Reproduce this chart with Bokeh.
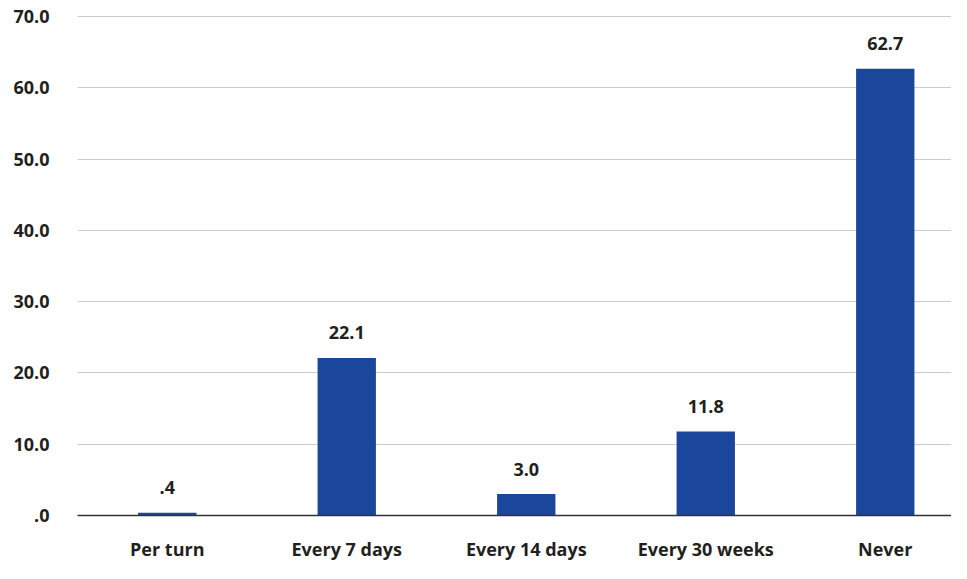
from bokeh.plotting import figure
from bokeh.models import ColumnDataSource, Range1d, FixedTicker
from bokeh.core.properties import value
from bokeh.embed import file_html
from bokeh.resources import INLINE

categories = ["Per turn", "Every 7 days", "Every 14 days", "Every 30 weeks", "Never"]
values = [0.4, 22.1, 3.0, 11.8, 62.7]
y_ticks = [0, 10, 20, 30, 40, 50, 60, 70]

def fmt(v):
    s = f"{v:.1f}"
    return s[1:] if s.startswith("0") else s

xs = [i + 0.5 for i in range(len(categories))]
src = ColumnDataSource(dict(x=xs, top=values, label=[fmt(v) for v in values]))

FONT = "Open Sans"
TXT = "#231f20"

p = figure(width=951, height=563, output_backend="svg", toolbar_location=None,
           x_range=Range1d(0, 4.869), y_range=Range1d(0, 71),
           min_border_left=77, min_border_right=0, min_border_top=9, min_border_bottom=30)
p.outline_line_color = None
p.background_fill_color = "white"

p.vbar(x="x", top="top", width=0.325, bottom=0, source=src,
       fill_color="#1a469c", line_color=None)

p.text(x="x", y="top", text="label", source=src, y_offset=-25,
       text_align="center", text_baseline="alphabetic",
       text_font=value(FONT), text_font_style="bold", text_font_size="18px",
       text_color=TXT)

p.xaxis.ticker = FixedTicker(ticks=xs)
p.xaxis.major_label_overrides = {x: c for x, c in zip(xs, categories)}
p.yaxis.ticker = FixedTicker(ticks=y_ticks)
p.yaxis.major_label_overrides = {t: fmt(t) for t in y_ticks}

for ax in (p.xaxis[0], p.yaxis[0]):
    ax.major_tick_line_color = None
    ax.minor_tick_line_color = None
    ax.major_tick_out = 0
    ax.major_tick_in = 0
    ax.minor_tick_out = 0
    ax.minor_tick_in = 0
    ax.major_label_text_font = FONT
    ax.major_label_text_font_style = "bold"
    ax.major_label_text_font_size = "18px"
    ax.major_label_text_color = TXT

p.yaxis.axis_line_color = None
p.yaxis.major_label_standoff = 28
p.xaxis.axis_line_color = "#333333"
p.xaxis.axis_line_width = 1.5
p.xaxis.major_label_standoff = 21

p.xgrid.grid_line_color = None
p.ygrid.grid_line_color = "#cccccc"
p.ygrid.grid_line_width = 1

open("out.html", "w").write(file_html(p, INLINE))
